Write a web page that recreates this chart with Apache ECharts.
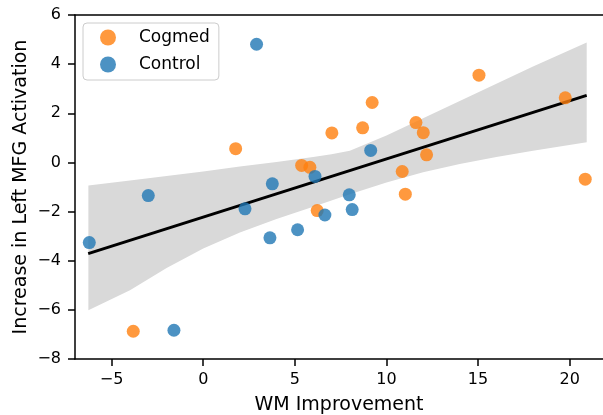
<!DOCTYPE html>
<html>
<head>
<meta charset="utf-8">
<script src="https://cdn.jsdelivr.net/npm/echarts@6/dist/echarts.min.js"></script>
<style>
html,body{margin:0;padding:0;background:#fff;}
#chart{width:603px;height:415px;}
</style>
</head>
<body>
<div id="chart"></div>
<script>
// Data
const cogmedX = [1.77, 7.02, 5.37, 5.82, 6.22, -3.82, 15.05, 19.76, 9.22, 8.70, 11.61, 12.01, 12.19, 10.86, 20.85, 11.03];
const cogmedY = [0.56, 1.20, -0.12, -0.20, -1.96, -6.87, 3.55, 2.63, 2.44, 1.41, 1.62, 1.21, 0.31, -0.37, -0.68, -1.29];
const controlX = [2.91, 6.10, 3.77, -3.00, 2.28, 6.64, 5.15, 3.64, -6.22, -1.60, 9.14, 7.97, 8.13];
const controlY = [4.81, -0.57, -0.87, -1.35, -1.89, -2.14, -2.74, -3.07, -3.26, -6.83, 0.49, -1.32, -1.92];
const fitX = [-6.28, 20.93];
const fitY = [-3.71, 2.73];
const bandX = [-6.27, -4, -2, 0, 2, 4, 6, 7, 8, 10, 12, 14, 16, 18, 20.93];
const bandLower = [-6.02, -5.20, -4.30, -3.50, -2.85, -2.30, -1.80, -1.55, -1.30, -0.82, -0.40, -0.06, 0.22, 0.48, 0.82];
const bandUpper = [-0.94, -0.74, -0.55, -0.37, -0.17, 0.02, 0.22, 0.33, 0.48, 1.10, 1.80, 2.50, 3.20, 3.90, 4.88];
const xTicks = [-5, 0, 5, 10, 15, 20];
const seriesNames = ['Cogmed', 'Control'];
const xName = 'WM Improvement';
const yName = 'Increase in Left MFG Activation';

const FONT = 'DejaVu Sans';
const minus = v => String(v).replace('-', '\u2212');
const zip = (a, b) => a.map((v, i) => [v, b[i]]);

const chart = echarts.init(document.getElementById('chart'), null, {renderer: 'canvas'});
chart.setOption({
  animation: false,
  backgroundColor: '#fff',
  grid: {left: 75, top: 15, right: 0, bottom: 56, containLabel: false, outerBoundsMode: 'none'},
  legend: {
    data: seriesNames.map(n => ({name: n, icon: 'circle'})),
    orient: 'vertical',
    left: 83, top: 23,
    itemWidth: 16, itemHeight: 16, itemGap: 10,
    padding: [6, 9, 7, 17],
    borderColor: '#cccccc', borderWidth: 1, borderRadius: 4,
    backgroundColor: 'rgba(255,255,255,0.8)',
    textStyle: {fontFamily: FONT, fontSize: 17, color: '#000', padding: [0, 0, 0, 18]}
  },
  xAxis: [{
    type: 'value', min: -7, max: 21.82, position: 'bottom',
    name: xName, nameLocation: 'middle', nameGap: 37, nameMoveOverlap: false,
    nameTextStyle: {fontFamily: FONT, fontSize: 19, color: '#000'},
    axisLine: {show: true, onZero: false, lineStyle: {color: '#000', width: 1.5}},
    axisTick: {show: true, length: 7, lineStyle: {color: '#000', width: 1.5}, customValues: xTicks},
    axisLabel: {fontFamily: FONT, fontSize: 16, color: '#000', margin: 13, customValues: xTicks, formatter: minus},
    splitLine: {show: false}
  }, {
    type: 'value', min: -7, max: 21.82, position: 'top',
    axisLine: {show: true, onZero: false, lineStyle: {color: '#000', width: 1.5}},
    axisTick: {show: false}, axisLabel: {show: false}, splitLine: {show: false}
  }],
  yAxis: {
    type: 'value', min: -8, max: 6, interval: 2,
    name: yName, nameLocation: 'middle', nameGap: 44, nameMoveOverlap: false,
    nameTextStyle: {fontFamily: FONT, fontSize: 19, color: '#000'},
    axisLine: {show: true, onZero: false, lineStyle: {color: '#000', width: 1.5}},
    axisTick: {show: true, length: 7, lineStyle: {color: '#000', width: 1.5}},
    axisLabel: {fontFamily: FONT, fontSize: 16, color: '#000', margin: 14, formatter: minus},
    splitLine: {show: false}
  },
  series: [{
    type: 'custom',
    name: 'band',
    silent: true,
    clip: true,
    z: 1,
    data: [[0, 0]],
    renderItem: function (params, api) {
      const pts = [];
      for (let i = 0; i < bandX.length; i++) pts.push(api.coord([bandX[i], bandUpper[i]]));
      for (let i = bandX.length - 1; i >= 0; i--) pts.push(api.coord([bandX[i], bandLower[i]]));
      return {type: 'polygon', shape: {points: pts}, style: {fill: '#d9d9d9', stroke: null}};
    }
  }, {
    type: 'line',
    name: 'fit',
    data: zip(fitX, fitY),
    showSymbol: false, symbol: 'none',
    lineStyle: {color: '#000', width: 3},
    z: 2, silent: true
  }, {
    type: 'scatter',
    name: seriesNames[0],
    data: zip(cogmedX, cogmedY),
    symbol: 'circle', symbolSize: 13,
    itemStyle: {color: '#ff7f0e', opacity: 0.8},
    z: 3
  }, {
    type: 'scatter',
    name: seriesNames[1],
    data: zip(controlX, controlY),
    symbol: 'circle', symbolSize: 13,
    itemStyle: {color: '#1f77b4', opacity: 0.8},
    z: 3
  }]
});
</script>
</body>
</html>
